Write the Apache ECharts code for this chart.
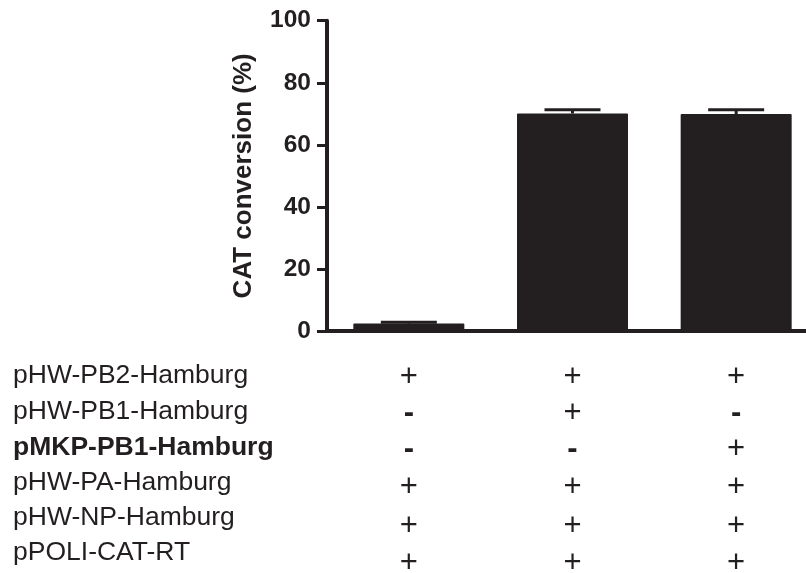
<!DOCTYPE html>
<html>
<head>
<meta charset="utf-8">
<script src="https://cdn.jsdelivr.net/npm/echarts@6/dist/echarts.min.js"></script>
<style>html,body{margin:0;padding:0;background:#fff;overflow:hidden;width:806px;height:573px;}#main{width:818px;height:573px;}</style>
</head>
<body>
<div id="main"></div>
<script>
// ---- data ----
const categories = ['Condition 1', 'Condition 2', 'Condition 3'];
const conversion = [2.4, 70.1, 69.9];
const conversionErr = [0.4, 1.2, 1.4];
const yTickMin = 0, yTickMax = 100, yTickStep = 20;
const yAxisTitle = 'CAT conversion (%)';
const rowLabels = ['pHW-PB2-Hamburg', 'pHW-PB1-Hamburg', 'pMKP-PB1-Hamburg', 'pHW-PA-Hamburg', 'pHW-NP-Hamburg', 'pPOLI-CAT-RT'];
const rowBold = [false, false, true, false, false, false];
const rowSigns = [
  ['+', '+', '+'],
  ['-', '+', '-'],
  ['-', '-', '+'],
  ['+', '+', '+'],
  ['+', '+', '+'],
  ['+', '+', '+']
];

// ---- layout / style ----
const INK = '#231f20';
const FONT = '"Liberation Sans", Arial, Helvetica, sans-serif';
const labelY = [376, 412, 448, 483, 518, 553];
const signY = [377, 413, 449, 487, 526, 563];

const chart = echarts.init(document.getElementById('main'));
chart.setOption({
  animation: false,
  backgroundColor: '#fff',
  grid: { left: 327, right: 0, top: 20.7, bottom: 242, containLabel: false },
  xAxis: {
    type: 'category',
    data: categories,
    axisLine: { lineStyle: { color: INK, width: 4 } },
    axisTick: { alignWithLabel: true, length: 8, lineStyle: { color: INK, width: 4 } },
    axisLabel: { show: false },
    splitLine: { show: false }
  },
  yAxis: {
    type: 'value',
    min: yTickMin, max: yTickMax, interval: yTickStep,
    name: yAxisTitle,
    nameLocation: 'middle',
    nameGap: 70,
    nameRotate: 90,
    nameTextStyle: { color: INK, fontFamily: FONT, fontWeight: 'bold', fontSize: 26 },
    axisLine: { show: true, lineStyle: { color: INK, width: 4 } },
    axisTick: { show: true, length: 10, lineStyle: { color: INK, width: 3 } },
    axisLabel: { color: INK, fontFamily: FONT, fontWeight: 'bold', fontSize: 24.5, margin: 16 },
    splitLine: { show: false }
  },
  series: [
    {
      type: 'bar',
      data: conversion,
      barWidth: 111,
      itemStyle: { color: INK, borderRadius: 1 },
      z: 2
    },
    {
      type: 'custom',
      z: 3,
      data: conversion.map((v, i) => [i, v, conversionErr[i]]),
      renderItem: function (params, api) {
        const i = api.value(0), v = api.value(1), e = api.value(2);
        const base = api.coord([i, v]);
        const top = api.coord([i, v + e]);
        const half = 28;
        return {
          type: 'group',
          children: [
            { type: 'line', shape: { x1: base[0], y1: base[1], x2: top[0], y2: top[1] }, style: { stroke: INK, lineWidth: 3 } },
            { type: 'line', shape: { x1: top[0] - half, y1: top[1], x2: top[0] + half, y2: top[1] }, style: { stroke: INK, lineWidth: 3 } }
          ]
        };
      }
    }
  ]
});

// table below the axis, built from the arrays above
const graphics = [];
rowLabels.forEach((lab, r) => {
  graphics.push({
    type: 'text', x: 13, y: labelY[r], silent: true,
    style: {
      text: lab, fill: INK, fontFamily: FONT, fontSize: 26.5,
      fontWeight: rowBold[r] ? 'bold' : 'normal',
      align: 'left', textAlign: 'left', verticalAlign: 'middle', textVerticalAlign: 'middle'
    }
  });
  rowSigns[r].forEach((s, c) => {
    const px = chart.convertToPixel({ xAxisIndex: 0 }, c);
    graphics.push({
      type: 'text', x: px, y: signY[r], silent: true,
      style: {
        text: s, fill: INK, fontFamily: FONT, fontSize: 31,
        fontWeight: s === '-' ? 'bold' : 'normal',
        align: 'center', textAlign: 'center', verticalAlign: 'middle', textVerticalAlign: 'middle'
      }
    });
  });
});
chart.setOption({ graphic: graphics });
</script>
</body>
</html>
